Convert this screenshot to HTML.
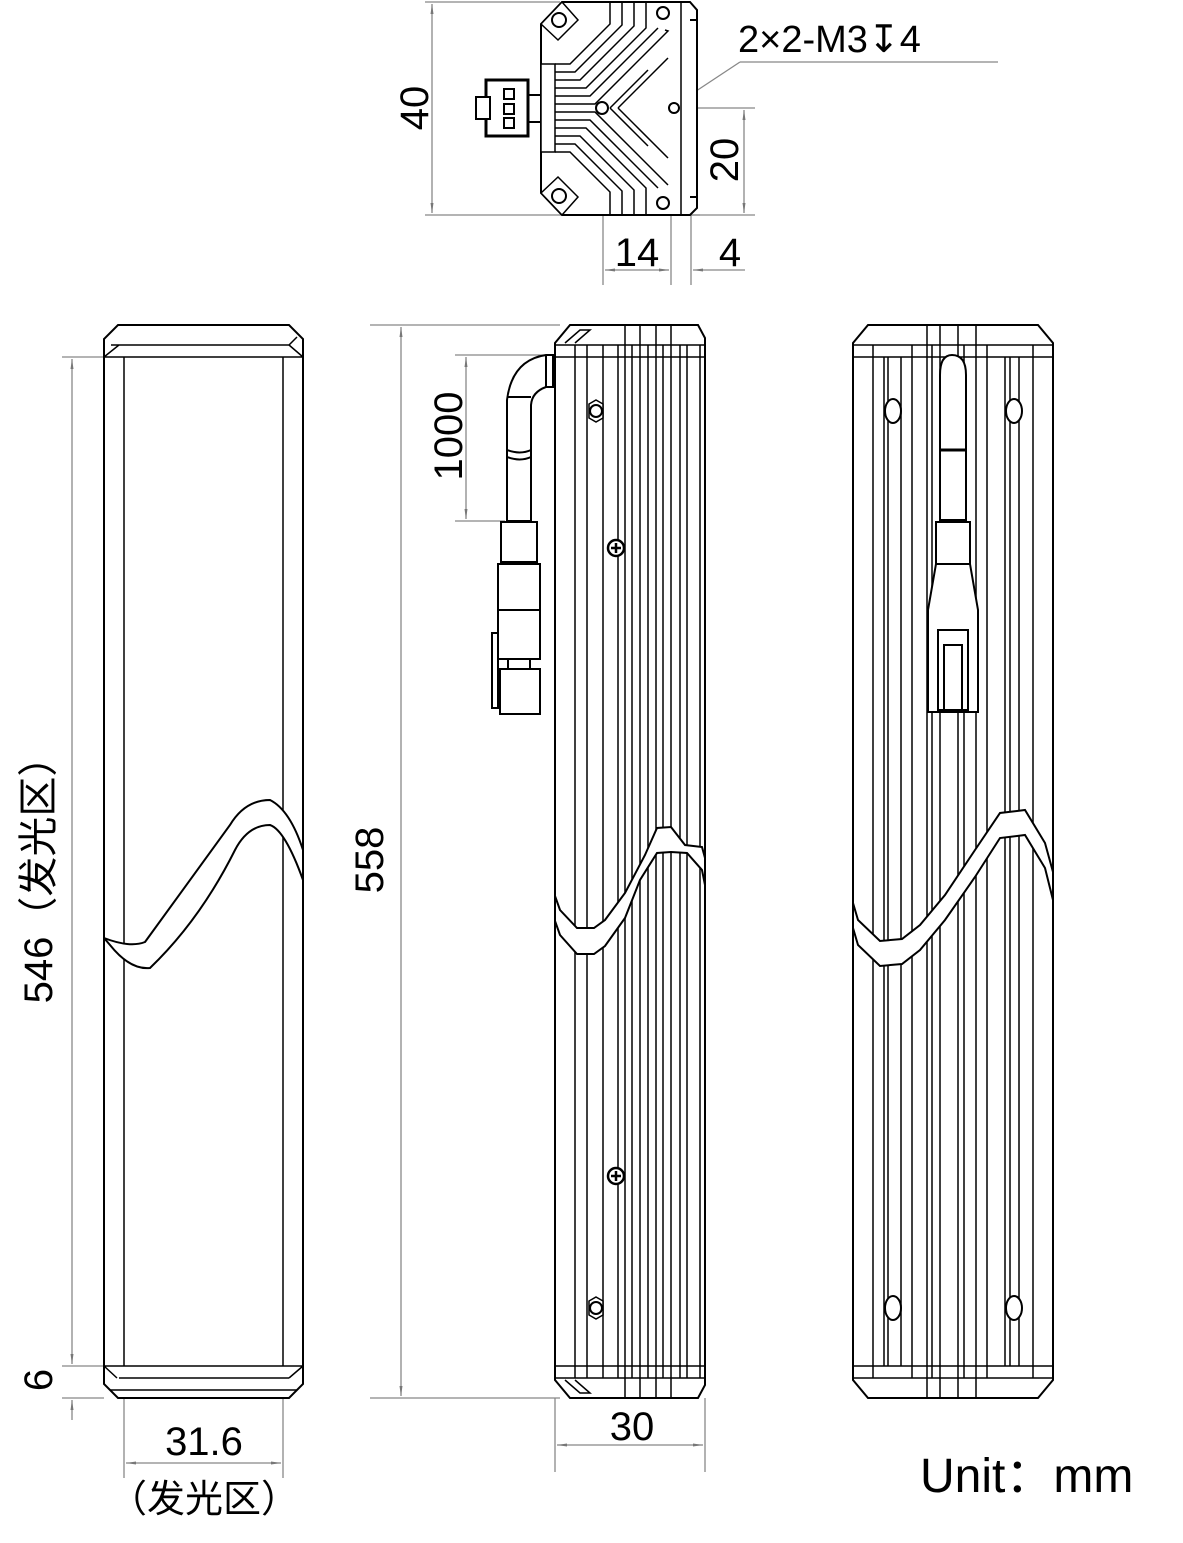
<!DOCTYPE html>
<html><head><style>
html,body{margin:0;padding:0;background:#fff}
svg{display:block}
text{font-family:"Liberation Sans","Noto Sans CJK SC",sans-serif;fill:#000}
</style></head><body>
<svg width="1183" height="1543" viewBox="0 0 1183 1543" xmlns="http://www.w3.org/2000/svg">
<defs>
<marker id="a" viewBox="0 0 10 10" refX="10" refY="5" markerWidth="10" markerHeight="10" orient="auto-start-reverse" markerUnits="userSpaceOnUse"><path d="M0,3.5 L10,5 L0,6.5z" fill="#777"/></marker>
</defs>
<g stroke="#888" stroke-width="1.3" fill="none">
<line x1="425" y1="2" x2="560" y2="2"/><line x1="425" y1="215" x2="700" y2="215"/>
<line x1="432" y1="4" x2="432" y2="213" marker-start="url(#a)" marker-end="url(#a)"/>
<line x1="680" y1="108" x2="755" y2="108"/><line x1="690" y1="215" x2="755" y2="215"/>
<line x1="744" y1="110" x2="744" y2="213" marker-start="url(#a)" marker-end="url(#a)"/>
<line x1="603" y1="110" x2="603" y2="285"/><line x1="671" y1="110" x2="671" y2="285"/><line x1="691" y1="200" x2="691" y2="285"/>
<line x1="605" y1="270" x2="669" y2="270" marker-start="url(#a)" marker-end="url(#a)"/>
<line x1="693" y1="270" x2="745" y2="270" marker-start="url(#a)"/>
<line x1="675" y1="105" x2="740" y2="62"/><line x1="740" y1="62" x2="998" y2="62"/>
<line x1="62" y1="357" x2="104" y2="357"/><line x1="62" y1="1366" x2="104" y2="1366"/><line x1="62" y1="1398" x2="104" y2="1398"/>
<line x1="72" y1="359" x2="72" y2="1364" marker-start="url(#a)" marker-end="url(#a)"/>
<line x1="72" y1="1420" x2="72" y2="1400" marker-end="url(#a)"/>
<line x1="124" y1="1398" x2="124" y2="1478"/><line x1="283" y1="1398" x2="283" y2="1478"/>
<line x1="126" y1="1463" x2="281" y2="1463" marker-start="url(#a)" marker-end="url(#a)"/>
<line x1="370" y1="325" x2="560" y2="325"/><line x1="370" y1="1398" x2="560" y2="1398"/>
<line x1="401" y1="327" x2="401" y2="1396" marker-start="url(#a)" marker-end="url(#a)"/>
<line x1="455" y1="355" x2="553" y2="355"/><line x1="455" y1="521" x2="505" y2="521"/>
<line x1="466" y1="357" x2="466" y2="519" marker-start="url(#a)" marker-end="url(#a)"/>
<line x1="555" y1="1398" x2="555" y2="1472"/><line x1="705" y1="1398" x2="705" y2="1472"/>
<line x1="557" y1="1445" x2="703" y2="1445" marker-start="url(#a)" marker-end="url(#a)"/>
</g>
<g stroke="#000" stroke-width="2" fill="#fff">
<path d="M562,2 L690,2 L697,10 L697,208 L690,215 L562,215 L541,193 L541,24 Z"/>
<line x1="681" y1="2" x2="681" y2="215" stroke-width="1.5"/>
<line x1="690" y1="20" x2="697" y2="20"/><line x1="690" y1="197" x2="697" y2="197"/>
<path d="M541,24 L562,2 L578,20 L558,40 Z M541,193 L562,215 L578,197 L558,177 Z" stroke-width="1.5"/>
<circle cx="559" cy="20" r="7"/><circle cx="559" cy="196" r="7"/><circle cx="663" cy="13" r="6"/><circle cx="663" cy="203" r="6"/>
<g fill="none" stroke-width="1.5">
<path d="M555,64 L570,64 L610,24 L610,2"/><path d="M555,72 L575,72 L622,25 L622,2"/><path d="M555,80 L580,80 L634,26 L634,2"/><path d="M555,88 L586,88 L646,28 L646,2"/><path d="M555,96 L590,96 L658,28"/><path d="M555,104 L595,104 L668,31 L665,30"/>
<path d="M555,152 L570,152 L610,192 L610,215"/><path d="M555,144 L575,144 L622,191 L622,215"/><path d="M555,136 L580,136 L634,190 L634,215"/><path d="M555,128 L586,128 L646,188 L646,215"/><path d="M555,120 L590,120 L658,188"/><path d="M555,112 L595,112 L668,185"/>
<path d="M610,108 L648,70 M618,108 L668,58 M618,108 L668,158 M610,108 L648,146"/>
</g>
<circle cx="602" cy="108" r="6"/><circle cx="674" cy="108" r="5"/>
<g fill="#fff" stroke-width="1.5"><rect x="541" y="64" width="14" height="88"/></g>
<rect x="486" y="80" width="42" height="56" stroke-width="3"/>
<rect x="476" y="97" width="14" height="22"/><rect x="504" y="89" width="10" height="10"/><rect x="504" y="104" width="10" height="10"/><rect x="504" y="118" width="10" height="10"/>
<line x1="528" y1="95" x2="541" y2="95"/><line x1="528" y1="122" x2="541" y2="122"/>
<!-- left bar -->
<path d="M118,325 L289,325 L303,339 L303,1384 L289,1398 L118,1398 L104,1384 L104,339 Z"/>
<g fill="none" stroke-width="1.5">
<path d="M104,357 L303,357 M104,1366 L303,1366 M124,357 L124,1366 M283,357 L283,1366 M119,345 L289,345 L297,337 M119,1378 L289,1378 M111,345 L119,345 L104,357 M289,345 L303,357 M104,1366 L117,1378 M303,1366 L289,1378 M110,1390 L297,1390"/>
</g>
<path d="M104,938 Q130,948 145,942 Q190,880 230,825 Q245,800 270,800 Q290,810 303,850 L303,880 Q285,830 270,825 Q248,825 235,850 Q200,920 150,968 Q130,970 110,945 Z" stroke-width="2"/>
<!-- middle bar -->
<path d="M570,325 L698,325 L705,338 L705,1385 L698,1398 L570,1398 L555,1380 L555,343 Z"/>
<g fill="none" stroke-width="1.5">
<path d="M555,345 L705,345 M555,357 L705,357 M555,1366 L705,1366 M555,1378 L705,1378"/>
<path d="M575,345 V1378 M587,345 V1378 M603,345 V1378 M618,345 V1378 M625,325 V1398 M632,345 V1378 M640,325 V1398 M648,345 V1378 M656,325 V1398 M663,345 V1378 M671,325 V1398 M680,345 V1378 M687,345 V1378 M700,345 V1378"/>
<path d="M565,343 L580,330 L590,330 L575,343 M565,1380 L580,1393 L590,1393 L575,1380"/>
</g>
<path d="M596,400 L603,404 L603,418 L596,422 L589,418 L589,404Z" stroke-width="1.5"/><circle cx="596" cy="411" r="6"/>
<path d="M596,1297 L603,1301 L603,1315 L596,1319 L589,1315 L589,1301Z" stroke-width="1.5"/><circle cx="596" cy="1308" r="6"/>
<circle cx="616" cy="548" r="8" stroke-width="2.5"/><path d="M611,548 H621 M616,543 V553" stroke-width="2.5"/>
<circle cx="616" cy="1176" r="8" stroke-width="2.5"/><path d="M611,1176 H621 M616,1171 V1181" stroke-width="2.5"/>
<path d="M555,896 L560,910 L577,928 L594,928 L605,920 L625,893 L645,855 L657,828 L671,827 L685,845 L702,847 L705,858 L705,885 L702,870 L687,853 L671,852 L657,853 L640,880 L625,918 L605,946 L594,954 L577,954 L560,935 L555,921 Z"/>
<!-- cable -->
<path d="M553,355 L546,355 Q512,360 507,400 L507,521 L531,521 L531,405 Q532,392 546,387 L553,387 Z" stroke-width="2"/>
<line x1="546" y1="355" x2="546" y2="387"/><line x1="507" y1="397" x2="531" y2="397"/>
<path d="M507,450 Q520,455 531,450 M507,457 Q520,462 531,457" fill="none"/>
<rect x="501" y="522" width="36" height="40"/><rect x="498" y="564" width="42" height="95"/><line x1="498" y1="610" x2="540" y2="610"/>
<rect x="508" y="659" width="22" height="12"/><rect x="500" y="669" width="40" height="45"/><rect x="492" y="633" width="6" height="75"/>
<!-- right bar -->
<path d="M868,325 L1038,325 L1053,343 L1053,1380 L1038,1398 L868,1398 L853,1380 L853,343 Z"/>
<g fill="none" stroke-width="1.5">
<path d="M853,345 L1053,345 M853,357 L1053,357 M853,1366 L1053,1366 M853,1378 L1053,1378"/>
<path d="M873,345 V1378 M884,357 V1366 M888,357 V1366 M901,357 V1366 M912,345 V1378 M927,325 V1398 M932,345 V1378 M940,325 V1398 M958,325 V1398 M964,345 V1378 M976,325 V1398 M987,345 V1378 M1005,357 V1366 M1010,357 V1366 M1019,357 V1366 M1033,345 V1378"/>
</g>
<ellipse cx="893" cy="411" rx="8" ry="12"/><ellipse cx="1014" cy="411" rx="8" ry="12"/><ellipse cx="893" cy="1308" rx="8" ry="12"/><ellipse cx="1014" cy="1308" rx="8" ry="12"/>
<path d="M940,520 L940,375 Q940,355 952,355 Q966,355 966,375 L966,520 Z"/><line x1="941" y1="450" x2="965" y2="450" stroke-width="3"/>
<rect x="936" y="522" width="34" height="42"/>
<path d="M936,564 L970,564 L978,610 L978,712 L928,712 L928,610 Z"/><rect x="938" y="630" width="30" height="80"/><rect x="944" y="645" width="18" height="65"/>
<path d="M853,903 L858,920 L880,941 L902,939 L920,925 L945,895 L975,850 L1000,813 L1025,810 L1045,843 L1053,872 L1053,900 L1045,868 L1025,835 L1000,838 L975,877 L945,920 L920,950 L902,964 L880,966 L858,945 L853,928 Z"/>
</g>
<g font-size="38">
<text x="738" y="52" font-size="38">2×2-M3<tspan>↧</tspan>4</text>
<text transform="translate(428,108) rotate(-90)" text-anchor="middle" font-size="40">40</text>
<text transform="translate(738,160) rotate(-90)" text-anchor="middle" font-size="40">20</text>
<text x="637" y="266" text-anchor="middle" font-size="40">14</text>
<text x="730" y="266" text-anchor="middle" font-size="40">4</text>
<text transform="translate(462,436) rotate(-90)" text-anchor="middle" font-size="40">1000</text>
<text transform="translate(383,860) rotate(-90)" text-anchor="middle" font-size="40">558</text>
<text transform="translate(52,870) rotate(-90)" text-anchor="middle" font-size="40">546（发光区）</text>
<text transform="translate(52,1380) rotate(-90)" text-anchor="middle" font-size="40">6</text>
<text x="204" y="1455" text-anchor="middle" font-size="40">31.6</text>
<text x="204" y="1512" text-anchor="middle" font-size="38">（发光区）</text>
<text x="632" y="1440" text-anchor="middle" font-size="40">30</text>
<text x="920" y="1492" font-size="48">Unit：mm</text>
</g>
</svg>
</body></html>
